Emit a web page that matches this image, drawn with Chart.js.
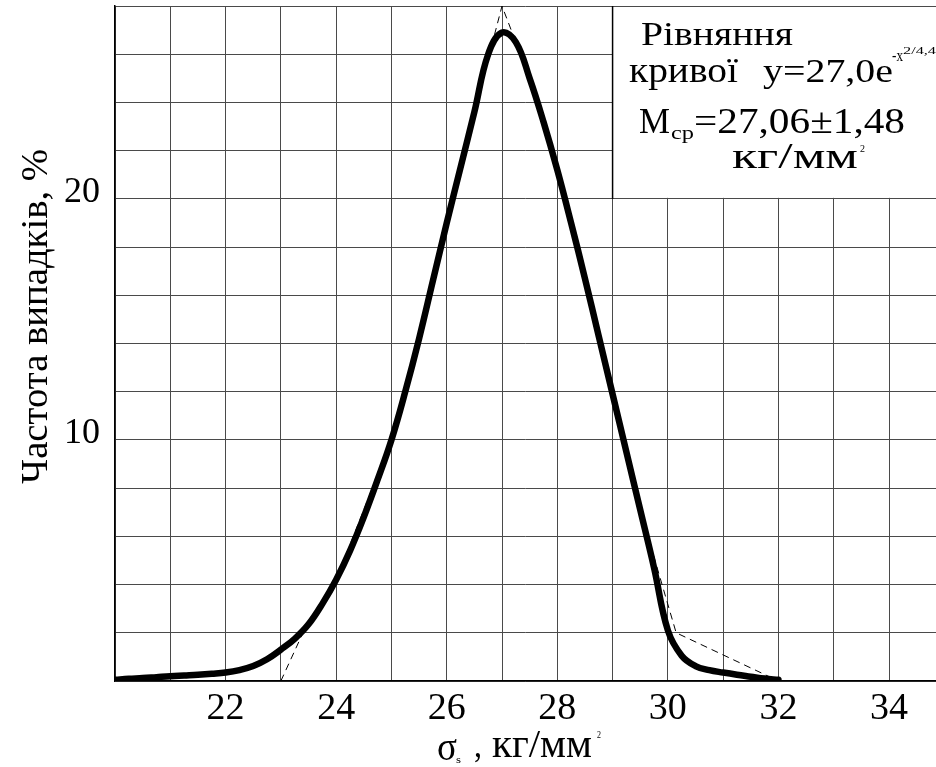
<!DOCTYPE html>
<html>
<head>
<meta charset="utf-8">
<script src="https://cdn.jsdelivr.net/npm/chart.js@4"></script>
<style>
	html, body { margin: 0; padding: 0; background: #fff; }
	#wrap { width: 936px; height: 767px; position: relative; }
</style>
</head>
<body>
<div id="wrap"><canvas id="chart"></canvas></div>
<script>
// thick smoothed curve, read every 0.25
const curveX = [20, 20.25, 20.5, 20.75, 21, 21.25, 21.5, 21.75, 22, 22.25, 22.5, 22.75, 23, 23.25, 23.5, 23.75, 24, 24.25, 24.5, 24.75, 25, 25.25, 25.5, 25.75, 26, 26.25, 26.5, 26.75, 27, 27.25, 27.5, 27.75, 28, 28.25, 28.5, 28.75, 29, 29.25, 29.5, 29.75, 30, 30.25, 30.5, 30.75, 31, 31.25, 31.5, 31.75, 32];
const curveY = [0.05, 0.09, 0.12, 0.16, 0.2, 0.23, 0.26, 0.3, 0.35, 0.45, 0.62, 0.9, 1.3, 1.75, 2.35, 3.2, 4.2, 5.4, 6.8, 8.35, 10.0, 12.0, 14.2, 16.6, 19.0, 21.3, 23.6, 26.0, 26.9, 26.5, 25.0, 23.2, 21.2, 19.0, 16.7, 14.3, 11.9, 9.5, 7.1, 4.7, 2.1, 1.05, 0.62, 0.45, 0.35, 0.26, 0.18, 0.1, 0.05];
// thin dashed polygon
const polyX = [23, 23.4, 24, 25, 25.5, 26, 26.5, 27, 27.5, 28, 28.5, 29, 29.5, 30.15, 32];
const polyY = [0, 2.0, 4.2, 10.0, 14.4, 19.0, 23.6, 28.0, 25.0, 21.2, 16.7, 11.9, 7.1, 2.0, 0];
const xTickLabels = [22, 24, 26, 28, 30, 32, 34];
const yTickLabels = [10, 20];

const serif = '"Liberation Serif", "Times New Roman", serif';

const toPoints = (xs, ys) => xs.map((x, i) => ({ x: x, y: ys[i] }));

// text squeezed/stretched to a given width
var fitText = (ctx, str, x, y, size, width) => {
	ctx.font = size + 'px ' + serif;
	const w = ctx.measureText(str).width;
	ctx.save();
	ctx.translate(x, y);
	ctx.scale(width / w, 1);
	ctx.fillText(str, 0, 0);
	ctx.restore();
};

const boxPlugin = {
	id: 'box',
	beforeDatasetsDraw(chart) {
		const ctx = chart.ctx;
		const xs = chart.scales.x, ys = chart.scales.y;
		const left = xs.getPixelForValue(29);
		const top = ys.getPixelForValue(28);
		const bottom = ys.getPixelForValue(20);
		ctx.save();
		ctx.fillStyle = '#fff';
		ctx.fillRect(left, top + 1, chart.chartArea.right - left + 2, bottom - top - 2);
		ctx.strokeStyle = '#000';
		ctx.lineWidth = 1.5;
		ctx.beginPath();
		ctx.moveTo(left, top);
		ctx.lineTo(left, bottom);
		ctx.stroke();
		ctx.restore();
	},
	afterDraw(chart) {
		const ctx = chart.ctx;
		ctx.save();
		ctx.fillStyle = '#000';
		ctx.textBaseline = 'alphabetic';
		ctx.textAlign = 'left';
		// box text
		fitText(ctx, 'Рівняння', 641, 45, 33, 152);
		fitText(ctx, 'кривої', 629, 82, 36, 109);
		fitText(ctx, 'y=27,0e', 763, 82, 34, 130);
		fitText(ctx, '-x', 892, 61, 17, 11);
		fitText(ctx, '2/4,4', 903, 54, 11, 33);
		fitText(ctx, 'M', 639, 133, 35, 31);
		fitText(ctx, 'ср', 671, 139, 19, 23);
		fitText(ctx, '=27,06±1,48', 694, 133, 35, 211);
		fitText(ctx, 'кг/мм', 732, 168, 36, 126);
		fitText(ctx, '2', 860, 152, 10, 5);
		// x axis title
		fitText(ctx, 'σ', 437, 760, 40, 20);
		fitText(ctx, 's', 456, 763, 11, 5);
		fitText(ctx, ',', 474, 757, 36, 8);
		fitText(ctx, 'кг/мм', 492, 757, 40, 100);
		fitText(ctx, '2', 597, 738, 10, 4);
		// y axis title
		ctx.translate(47, 484);
		ctx.rotate(-Math.PI / 2);
		fitText(ctx, 'Частота випадків, %', 0, 0, 38, 335);
		ctx.restore();
	}
};

var noPad = (s) => {
	s.paddingTop = 0;
	s.paddingBottom = 0;
	s.paddingLeft = 0;
	s.paddingRight = 0;
};

var drawChart = () => {
	const data = {
		datasets: [{
			label: 'curve',
			data: toPoints(curveX, curveY),
			borderColor: '#000',
			borderWidth: 6.5,
			borderCapStyle: 'round',
			borderJoinStyle: 'round',
			tension: 0.4,
			pointRadius: 0,
			fill: false,
			order: 2
		}, {
			label: 'polygon',
			data: toPoints(polyX, polyY),
			borderColor: '#000',
			borderWidth: 1,
			borderDash: [7, 5],
			tension: 0,
			pointRadius: 0,
			fill: false,
			order: 1
		}]
	};

	const config = {
		type: 'line',
		data: data,
		options: {
			responsive: false,
			animation: false,
			layout: { padding: { top: 6, right: 0, left: 0, bottom: 0 } },
			plugins: {
				legend: { display: false },
				tooltip: { enabled: false }
			},
			scales: {
				x: {
					type: 'linear',
					min: 20,
					max: 34.85,
					grid: { color: '#4a4a4a', lineWidth: 1, drawTicks: false },
					border: { color: '#000', width: 1.5 },
					ticks: {
						stepSize: 1,
						includeBounds: false,
						autoSkip: false,
						maxRotation: 0,
						padding: 5,
						color: '#000',
						font: { family: serif, size: 38 },
						callback: (v) => xTickLabels.includes(v) ? String(v) : ''
					},
					afterFit: (s) => { s.height = 86; noPad(s); }
				},
				y: {
					min: 0,
					max: 28,
					grid: { color: '#4a4a4a', lineWidth: 1, drawTicks: false },
					border: { color: '#000', width: 1.5 },
					ticks: {
						stepSize: 2,
						autoSkip: false,
						padding: 15,
						labelOffset: -6,
						color: '#000',
						font: { family: serif, size: 36 },
						callback: (v) => yTickLabels.includes(v) ? String(v) : ''
					},
					afterFit: (s) => { s.width = 115; noPad(s); }
				}
			}
		},
		plugins: [boxPlugin]
	};

	const canvas = document.getElementById('chart');
	canvas.width = 936;
	canvas.height = 767;
	new Chart(canvas, config);
};

drawChart();
</script>
</body>
</html>
